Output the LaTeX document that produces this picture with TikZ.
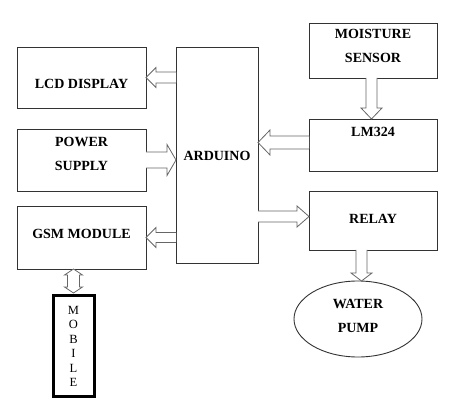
\documentclass[tikz,border=0pt]{standalone}
\usepackage{fontspec}
\setmainfont{Liberation Serif}
\usetikzlibrary{calc,shapes.geometric}
\newcommand{\blockarrow}[5]{% #1 start, #2 tip, #3 half shaft, #4 half head, #5 head length
  \coordinate (ba-h) at ($(#2)!#5!(#1)$);
  \draw[barrow] ($(#1)!#3!90:(#2)$) -- ($(ba-h)!#3!-90:(#1)$) -- ($(ba-h)!#4!-90:(#1)$)
    -- (#2) -- ($(ba-h)!#4!90:(#1)$) -- ($(ba-h)!#3!90:(#1)$) -- ($(#1)!#3!-90:(#2)$);
}
\newcommand{\dblockarrow}[5]{% #1 tip A, #2 tip B, #3 half shaft, #4 half head, #5 head length
  \coordinate (dba-a) at ($(#1)!#5!(#2)$);
  \coordinate (dba-b) at ($(#2)!#5!(#1)$);
  \draw[barrow] (#1) -- ($(dba-a)!#4!90:(#2)$) -- ($(dba-a)!#3!90:(#2)$)
    -- ($(dba-b)!#3!-90:(#1)$) -- ($(dba-b)!#4!-90:(#1)$) -- (#2)
    -- ($(dba-b)!#4!90:(#1)$) -- ($(dba-b)!#3!90:(#1)$)
    -- ($(dba-a)!#3!-90:(#2)$) -- ($(dba-a)!#4!-90:(#2)$) -- cycle;
}
\tikzset{
  blk/.style={draw=black!80, line width=0.9pt, rectangle, inner sep=0pt, outer sep=0pt},
  txt/.style={anchor=center, align=center, inner sep=0pt, font=\bfseries\fontsize{14}{24}\selectfont},
  barrow/.style={draw=black!60, line width=0.8pt, fill=white, line join=miter},
}
\begin{document}
\begin{tikzpicture}[x=1pt,y=-1pt]
\useasboundingbox[fill=white] (0,0) rectangle (474,419);
\node[blk, minimum width=129pt, minimum height=61pt,
  label={[txt, yshift=-6.5pt]center:LCD DISPLAY}] (lcd) at (81.5,77.5) {};
\node[blk, minimum width=129pt, minimum height=62pt,
  label={[txt, yshift=6pt]center:POWER\\SUPPLY}] (pow) at (81.5,160) {};
\node[blk, minimum width=129pt, minimum height=63pt,
  label={[txt, yshift=3.5pt]center:GSM MODULE}] (gsm) at (81.5,237.5) {};
\node[blk, minimum width=82pt, minimum height=216pt,
  label={[txt, yshift=-1pt]center:ARDUINO}] (ard) at (217,155) {};
\node[blk, minimum width=128pt, minimum height=55pt,
  label={[txt, yshift=4.5pt]center:MOISTURE\\SENSOR}] (moist) at (373,50.5) {};
\node[blk, minimum width=128pt, minimum height=52pt,
  label={[txt, yshift=-13pt]north:LM324}] (lm) at (373,145) {};
\node[blk, minimum width=128pt, minimum height=59pt,
  label={[txt, yshift=1.5pt]center:RELAY}] (relay) at (373,220.5) {};
\node[blk, ellipse, minimum width=128pt, minimum height=76pt,
  label={[txt, yshift=3.5pt]center:WATER\\PUMP}] (pump) at (358,319) {};
\node[draw=black, line width=3pt, minimum width=41pt, minimum height=101pt, inner sep=0pt,
  align=center, font=\fontsize{12.5}{14.5}\selectfont] (mob) at (73.5,346.5) {M\\O\\B\\I\\L\\E};
% arrows
\coordinate (lcdA) at (ard.west |- lcd.east);
\blockarrow{lcdA}{lcd.east}{5.5pt}{10pt}{10pt}
\coordinate (powB) at (ard.west |- pow.east);
\blockarrow{pow.east}{powB}{8pt}{15.5pt}{9pt}
\coordinate (gsmA) at (ard.west |- gsm.east);
\blockarrow{gsmA}{gsm.east}{5pt}{10pt}{10pt}
\coordinate (lmA) at ([yshift=2.5pt]lm.west);
\coordinate (lmB) at (ard.east |- lmA);
\blockarrow{lmA}{lmB}{6.5pt}{12.5pt}{12pt}
\coordinate (rB) at ([yshift=4pt]relay.west);
\coordinate (rA) at (ard.east |- rB);
\blockarrow{rA}{rB}{5.5pt}{10.5pt}{12pt}
\coordinate (mA) at ([xshift=-1.5pt]moist.south);
\coordinate (mB) at (lm.north -| mA);
\blockarrow{mA}{mB}{5.5pt}{10.5pt}{11pt}
\coordinate (pA) at ([xshift=-11.5pt]relay.south);
\coordinate (pB) at (pump.north -| pA);
\blockarrow{pA}{pB}{5.5pt}{10.5pt}{8pt}
\coordinate (gA) at (gsm.south -| mob.north);
\coordinate (gB) at ([yshift=1.5pt]mob.north);
\dblockarrow{gA}{gB}{6pt}{9pt}{6pt}
\end{tikzpicture}
\end{document}
